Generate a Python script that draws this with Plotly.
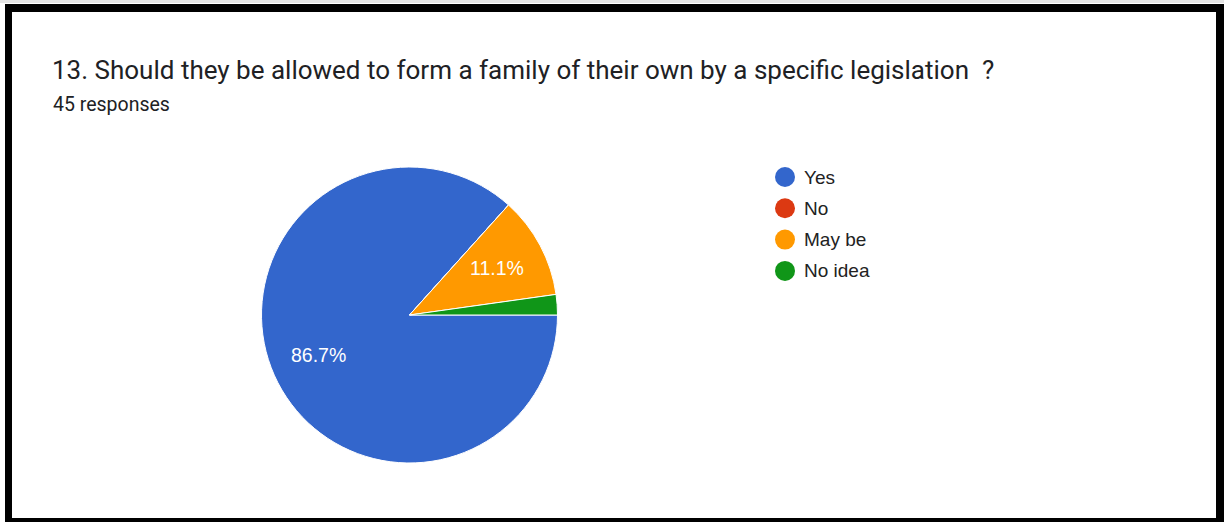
import math
import plotly.graph_objects as go

W, H = 1224, 522

# Survey answers
categories = ["Yes", "No", "May be", "No idea"]
counts = [39, 0, 5, 1]
colors = ["#3366cc", "#dc3912", "#ff9900", "#109618"]
title_text = "13. Should they be allowed to form a family of their own by a specific legislation  ?"
subtitle_text = "45 responses"


def px(x):
    return x / W


def py(y):
    return 1 - y / H


# pie placement in pixels
cx, cy, rad = 409.5, 315.0, 148.0

fig = go.Figure()

fig.add_trace(go.Pie(
    labels=categories,
    values=counts,
    sort=False,
    direction="clockwise",
    rotation=90,
    marker=dict(colors=colors, line=dict(color="white", width=1)),
    textinfo="none",
    domain=dict(x=[px(cx - rad), px(cx + rad)], y=[py(cy + rad), py(cy - rad)]),
    showlegend=False,
    hoverinfo="label+percent+value",
))

shapes = [
    # outer frame
    dict(type="rect", xref="paper", yref="paper", x0=px(0), x1=px(W), y0=py(0), y1=py(3),
         fillcolor="#e4e4e4", line=dict(width=0), layer="below"),
    dict(type="rect", xref="paper", yref="paper", x0=px(5), x1=px(W), y0=py(H), y1=py(4),
         fillcolor="black", line=dict(width=0), layer="below"),
    dict(type="rect", xref="paper", yref="paper", x0=px(12), x1=px(1216), y0=py(518), y1=py(12),
         fillcolor="white", line=dict(width=0), layer="below"),
]

annotations = [
    dict(text=title_text, xref="paper", yref="paper", x=px(50), y=py(70),
         xanchor="left", yanchor="middle", showarrow=False,
         font=dict(family="Roboto, sans-serif", size=26, color="#202124")),
    dict(text=subtitle_text, xref="paper", yref="paper", x=px(51), y=py(104),
         xanchor="left", yanchor="middle", showarrow=False,
         font=dict(family="Roboto, sans-serif", size=19.5, color="#202124")),
]

# percentage labels along each slice's middle angle (clockwise from 3 o'clock)
total = sum(counts)
start = 0.0
for c in counts:
    frac = c / total
    mid = start + frac * 180.0
    start += frac * 360.0
    if frac < 0.05:
        continue
    a = math.radians(mid)
    lx = cx + 0.67 * rad * math.cos(a)
    ly = cy + 0.67 * rad * math.sin(a)
    annotations.append(dict(text=f"{frac * 100:.1f}%", xref="paper", yref="paper",
                            x=px(lx), y=py(ly), xanchor="center", yanchor="middle",
                            showarrow=False,
                            font=dict(family="Liberation Sans, Arial, sans-serif",
                                      size=19.5, color="white")))

# legend: colored dots with the answer labels
leg_x, leg_y0, leg_dy, r = 785, 177, 31.3, 10
for i, (name, col) in enumerate(zip(categories, colors)):
    y = leg_y0 + i * leg_dy
    shapes.append(dict(type="circle", xref="paper", yref="paper",
                       x0=px(leg_x - r), x1=px(leg_x + r), y0=py(y + r), y1=py(y - r),
                       fillcolor=col, line=dict(width=0)))
    annotations.append(dict(text=name, xref="paper", yref="paper", x=px(802), y=py(y),
                            xanchor="left", yanchor="middle", showarrow=False,
                            font=dict(family="Liberation Sans, Arial, sans-serif", size=19,
                                      color="#222222")))

fig.update_layout(
    width=W, height=H,
    margin=dict(l=0, r=0, t=0, b=0),
    paper_bgcolor="white",
    plot_bgcolor="white",
    shapes=shapes,
    annotations=annotations,
)

fig.write_html("out.html", config={"displayModeBar": False})
